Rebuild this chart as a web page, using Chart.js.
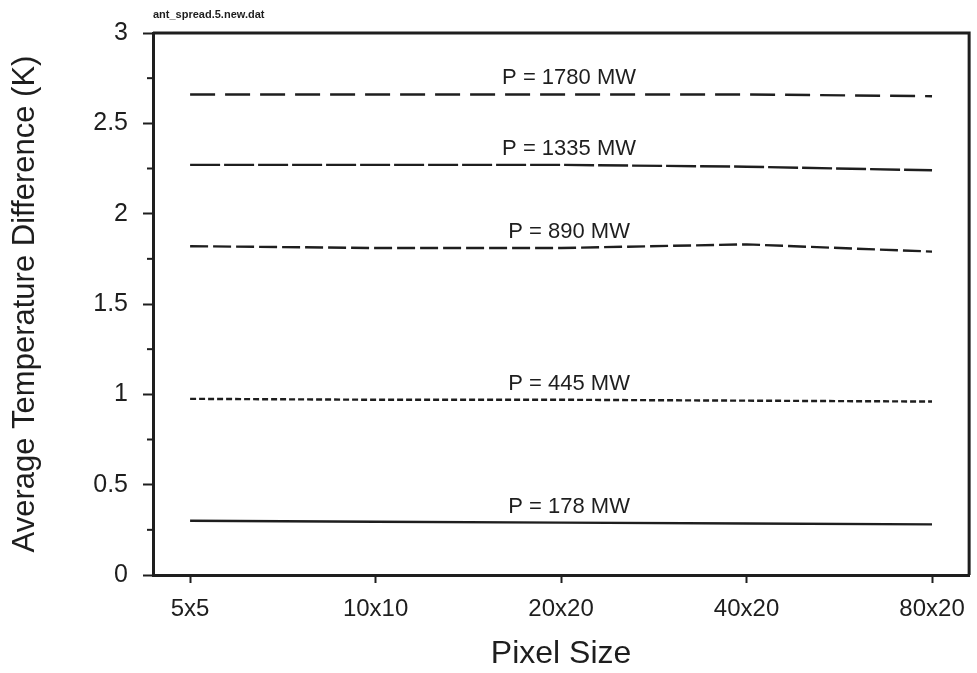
<!DOCTYPE html>
<html>
<head>
<meta charset="utf-8">
<title>ant_spread.5.new.dat</title>
<script src="https://cdn.jsdelivr.net/npm/chart.js@4.4.1/dist/chart.umd.min.js"></script>
<style>
  html, body { margin: 0; padding: 0; background: #fff; }
  #wrap { width: 977px; height: 673px; position: relative; }
</style>
</head>
<body>
<div id="wrap"><canvas id="tempchart"></canvas></div>
<script>
"use strict";

/* data */
var pixelSizes = ['5x5', '10x10', '20x20', '40x20', '80x20'];
var powerLabels = ['P = 1780 MW', 'P = 1335 MW', 'P = 890 MW', 'P = 445 MW', 'P = 178 MW'];
var p1780 = [2.66, 2.66, 2.66, 2.66, 2.65];
var p1335 = [2.27, 2.27, 2.27, 2.26, 2.24];
var p890 = [1.82, 1.81, 1.81, 1.83, 1.79];
var p445 = [0.975, 0.97, 0.97, 0.965, 0.96];
var p178 = [0.30, 0.295, 0.29, 0.285, 0.28];
var yTicks = [0, 0.5, 1, 1.5, 2, 2.5, 3];
var yMinorTicks = [0.25, 0.75, 1.25, 1.75, 2.25, 2.75];

var ink = '#1e1e1e';
var fontName = '"Liberation Sans", Arial, Helvetica, sans-serif';

function toPoints(values) {
    return values.map(function (v, i) { return { x: i, y: v }; });
}

function makeSet(label, values, dash) {
    return {
        label: label,
        data: toPoints(values),
        borderColor: ink,
        backgroundColor: 'rgba(0, 0, 0, 0)',
        borderWidth: 2.4,
        borderDash: dash,
        pointRadius: 0,
        fill: false,
        tension: 0
    };
}

/* frame, minor ticks, file name and curve labels */
var decorPlugin = {
    id: 'decor',
    afterDraw: function (chart) {
        var ctx = chart.ctx;
        var area = chart.chartArea;
        var ys = chart.scales.y;
        ctx.save();
        ctx.strokeStyle = ink;
        ctx.lineWidth = 3;
        ctx.beginPath();
        ctx.moveTo(area.left, area.top);
        ctx.lineTo(area.right, area.top);
        ctx.lineTo(area.right, area.bottom);
        ctx.stroke();

        ctx.lineWidth = 2;
        yMinorTicks.forEach(function (v) {
            var py = ys.getPixelForValue(v);
            ctx.beginPath();
            ctx.moveTo(area.left - 6, py);
            ctx.lineTo(area.left, py);
            ctx.stroke();
        });

        ctx.fillStyle = ink;
        ctx.font = 'bold 11px ' + fontName;
        ctx.textAlign = 'left';
        ctx.textBaseline = 'alphabetic';
        ctx.fillText('ant_spread.5.new.dat', area.left, area.top - 15);

        ctx.font = '22px ' + fontName;
        ctx.textAlign = 'center';
        ctx.textBaseline = 'middle';
        chart.data.datasets.forEach(function (ds, i) {
            var pt = chart.getDatasetMeta(i).data[2];
            ctx.fillText(powerLabels[i], pt.x + 8, pt.y - 16);
        });
        ctx.restore();
    }
};

var canvas = document.getElementById('tempchart');
canvas.width = 977;
canvas.height = 673;

var chartConfig = {
    type: 'line',
    data: {
        datasets: [
            makeSet('1780', p1780, [25, 10]),
            makeSet('1335', p1335, [30, 4]),
            makeSet('890', p890, [18, 5]),
            makeSet('445', p445, [6, 3]),
            makeSet('178', p178, [])
        ]
    },
    options: {
        responsive: false,
        animation: false,
        maintainAspectRatio: false,
        layout: {
            padding: { top: 33, right: 6, left: 0, bottom: 0 }
        },
        plugins: {
            legend: { display: false },
            tooltip: { enabled: false }
        },
        scales: {
            x: {
                type: 'linear',
                min: -0.2,
                max: 4.2,
                afterBuildTicks: function (scale) {
                    scale.ticks = pixelSizes.map(function (s, i) { return { value: i }; });
                },
                afterFit: function (scale) { scale.height = 98; },
                border: { display: true, color: ink, width: 3 },
                grid: { drawOnChartArea: false, drawTicks: true, tickLength: 8, tickColor: ink, tickWidth: 2 },
                ticks: {
                    color: ink,
                    padding: 12,
                    maxRotation: 0,
                    font: { family: fontName, size: 24 },
                    callback: function (v) { return pixelSizes[v]; }
                },
                title: {
                    display: true,
                    text: 'Pixel Size',
                    color: ink,
                    font: { family: fontName, size: 32 },
                    padding: { top: 10, bottom: 0 }
                }
            },
            y: {
                min: 0,
                max: 3,
                afterBuildTicks: function (scale) {
                    scale.ticks = yTicks.map(function (v) { return { value: v }; });
                },
                afterFit: function (scale) { scale.width = 153; },
                border: { display: true, color: ink, width: 3 },
                grid: { drawOnChartArea: false, drawTicks: true, tickLength: 10, tickColor: ink, tickWidth: 2 },
                ticks: {
                    color: ink,
                    padding: 15,
                    font: { family: fontName, size: 25 },
                    callback: function (v) { return String(v); }
                },
                title: {
                    display: true,
                    text: 'Average Temperature Difference (K)',
                    color: ink,
                    font: { family: fontName, size: 31 },
                    padding: { top: 7, bottom: 0 }
                }
            }
        }
    },
    plugins: [decorPlugin]
};

var tempChart = new Chart(canvas.getContext('2d'), chartConfig);
</script>
</body>
</html>
